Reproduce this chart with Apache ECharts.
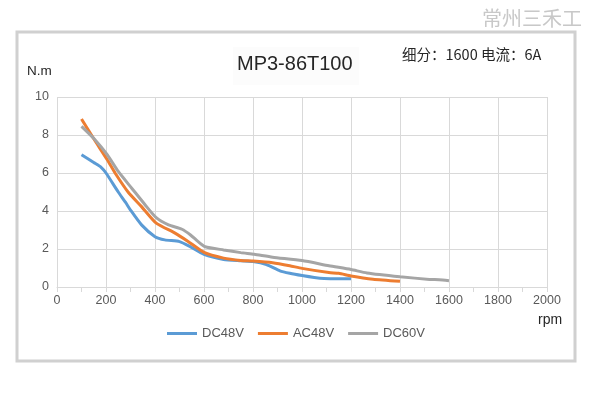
<!DOCTYPE html>
<html>
<head>
<meta charset="utf-8">
<script src="https://cdn.jsdelivr.net/npm/echarts@6/dist/echarts.min.js"></script>
<style>
  html, body { margin: 0; padding: 0; background: #fff; }
  #chart { width: 592px; height: 397px; }
</style>
</head>
<body>
<div id="chart"></div>
<script>
  // 矩频特性数据 (rpm, N.m)
  var dc48Rpm = [100, 150, 180, 200, 250, 280, 300, 345, 400, 440, 500, 540, 600, 680, 750, 800, 855, 910, 950, 1000, 1050, 1090, 1200]
  var dc48Torque = [6.96, 6.55, 6.3, 6.0, 5.0, 4.45, 4.05, 3.27, 2.65, 2.48, 2.39, 2.15, 1.72, 1.45, 1.38, 1.34, 1.18, 0.85, 0.72, 0.6, 0.5, 0.45, 0.43]

  var ac48Rpm = [100, 150, 205, 237, 290, 345, 405, 480, 535, 600, 680, 750, 800, 880, 950, 1000, 1110, 1150, 1200, 1290, 1400]
  var ac48Torque = [8.84, 7.8, 6.7, 6.0, 5.0, 4.23, 3.36, 2.85, 2.4, 1.82, 1.52, 1.4, 1.37, 1.28, 1.12, 0.98, 0.76, 0.72, 0.58, 0.41, 0.3]

  var dc60Rpm = [100, 155, 205, 250, 305, 360, 405, 455, 510, 545, 575, 605, 680, 750, 805, 880, 1000, 1110, 1200, 1265, 1400, 1520, 1560, 1600]
  var dc60Torque = [8.45, 7.75, 6.96, 6.08, 5.2, 4.32, 3.65, 3.27, 3.04, 2.74, 2.4, 2.12, 1.95, 1.81, 1.72, 1.57, 1.39, 1.12, 0.92, 0.74, 0.54, 0.4, 0.38, 0.33]

  var xTicks = [0, 200, 400, 600, 800, 1000, 1200, 1400, 1600, 1800, 2000]
  var yTicks = [0, 2, 4, 6, 8, 10]

  function pairs(xs, ys) {
    return xs.map(function (x, i) { return [x, ys[i]] })
  }

  var labelColor = '#595959'
  var gridColor = '#d9d9d9'
  var font = 'Arial, "Liberation Sans", "Noto Sans CJK SC", sans-serif'

  var chart = echarts.init(document.getElementById('chart'))
  chart.setOption({
    backgroundColor: '#fff',
    animation: false,
    textStyle: { fontFamily: font },
    graphic: [
      {
        type: 'rect',
        shape: { x: 17, y: 32, width: 558, height: 329 },
        style: { fill: 'none', stroke: '#d0d0d0', lineWidth: 3 }
      },
      {
        type: 'text',
        left: 482, top: 8,
        style: { text: '常州三禾工', fill: '#c8c8c8', font: '20px "Noto Sans CJK SC", sans-serif' }
      },
      {
        type: 'rect',
        shape: { x: 233, y: 47, width: 126, height: 38 },
        style: { fill: '#fcfcfc' }
      },
      {
        type: 'text',
        left: 237, top: 54,
        style: { text: 'MP3-86T100', fill: '#262626', font: '20px ' + font }
      },
      {
        type: 'text',
        left: 402, top: 47,
        style: { text: '细分：1600 电流：6A', fill: '#262626', font: '14.5px "Noto Sans CJK SC", sans-serif' }
      },
      {
        type: 'text',
        left: 27, top: 65,
        style: { text: 'N.m', fill: '#262626', font: '13.5px ' + font }
      },
      {
        type: 'text',
        left: 538, top: 313,
        style: { text: 'rpm', fill: '#262626', font: '14px ' + font }
      }
    ],
    grid: {
      left: 57,
      right: 45,
      top: 97,
      bottom: 110
    },
    legend: {
      bottom: 52,
      left: 'center',
      itemWidth: 30,
      itemHeight: 3,
      itemGap: 14,
      icon: 'rect',
      textStyle: { color: labelColor, fontSize: 13 },
      data: ['DC48V', 'AC48V', 'DC60V']
    },
    xAxis: {
      type: 'value',
      min: xTicks[0],
      max: xTicks[xTicks.length - 1],
      interval: 200,
      axisLine: { show: true, lineStyle: { color: gridColor } },
      axisTick: { show: true, length: 5, lineStyle: { color: gridColor } },
      minorTick: { show: true, splitNumber: 2, length: 5, lineStyle: { color: gridColor } },
      splitLine: { show: true, lineStyle: { color: gridColor } },
      axisLabel: { color: labelColor, fontSize: 12.5, margin: 7, formatter: function (v) { return String(v) } }
    },
    yAxis: {
      type: 'value',
      min: yTicks[0],
      max: yTicks[yTicks.length - 1],
      interval: 2,
      axisLine: { show: false },
      axisTick: { show: false },
      splitLine: { show: true, lineStyle: { color: gridColor } },
      axisLabel: { color: labelColor, fontSize: 12.5, margin: 8 }
    },
    series: [
      {
        name: 'DC48V',
        type: 'line',
        showSymbol: false,
        smooth: 0.2,
        color: '#5b9bd5',
        lineStyle: { width: 3 },
        data: pairs(dc48Rpm, dc48Torque)
      },
      {
        name: 'AC48V',
        type: 'line',
        showSymbol: false,
        smooth: 0.2,
        color: '#ed7d31',
        lineStyle: { width: 3 },
        data: pairs(ac48Rpm, ac48Torque)
      },
      {
        name: 'DC60V',
        type: 'line',
        showSymbol: false,
        smooth: 0.2,
        color: '#a5a5a5',
        lineStyle: { width: 3 },
        data: pairs(dc60Rpm, dc60Torque)
      }
    ]
  })
</script>
</body>
</html>
